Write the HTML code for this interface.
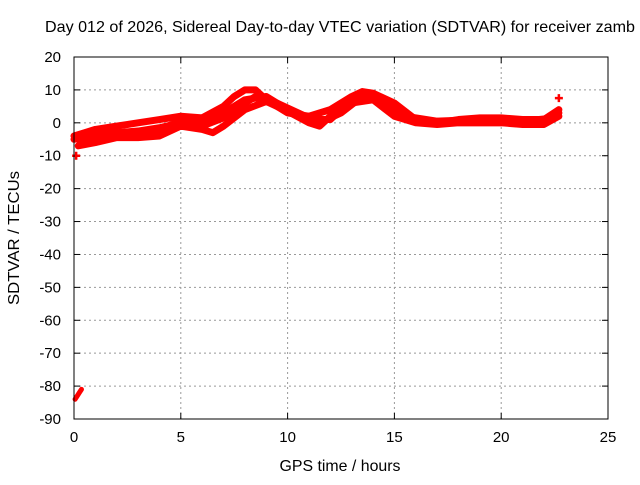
<!DOCTYPE html>
<html><head><meta charset="utf-8"><style>
body{margin:0;background:#fff;font-family:"Liberation Sans",sans-serif}
text{font-family:"Liberation Sans",sans-serif;font-size:15px;fill:#000}
.big{font-size:16px}
</style></head><body>
<svg id="chart" width="640" height="480">
<text class="big" x="340" y="32" text-anchor="middle" textLength="590" lengthAdjust="spacingAndGlyphs">Day 012 of 2026, Sidereal Day-to-day VTEC variation (SDTVAR) for receiver zamb</text>
<g id="grid"></g>
<g id="ticks"></g>
<g id="marks"></g>
<rect x="74" y="57" width="534" height="362" fill="none" stroke="#000" stroke-width="1"/>
<text class="big" x="340" y="471" text-anchor="middle" textLength="121" lengthAdjust="spacingAndGlyphs">GPS time / hours</text>
<text class="big" transform="translate(19,238) rotate(-90)" text-anchor="middle" textLength="134" lengthAdjust="spacingAndGlyphs">SDTVAR / TECUs</text>
</svg>
<script>
const xTicks=[0,5,10,15,20,25];
const yTicks=[20,10,0,-10,-20,-30,-40,-50,-60,-70,-80,-90];
const tA=[0,0.5,1,2,3,4,5,6,7,7.5,8,8.5,9,10,11,12,13,13.5,14,15,16,17,18,19,20,21,22,22.7];
const vA=[-4,-3,-2,-1,0,1,2,1.5,5,8,10,10,7,3,2,4,8,9.5,9,6,1,0,1,1.5,1.5,1,1,4];
const tB=[0.2,1,2,3,4,5,6,6.5,7,8,9,10,11,11.5,12,13,14,15,16,17,18,19,20,21,22,22.7];
const vB=[-7,-6,-4.5,-4.5,-4,-1,-2,-3,-1,4,6.5,3.5,0,-1,2,6,7,2,0,-0.5,0,0,0,-0.5,-0.5,2];
const tC=[0,1,2,3,4,5,6,7,8,9,10,11,12,13,14,15,16,17,18,19,20,21,22,22.7];
const vC=[-5,-4,-3,-2.5,-1.5,0,0,3,7,8,4,1,1,7,8,4,1,0,0.5,0.5,1,0.5,0,3];
const tD=[0.3,1,2,3,4,5,6,7,7.5,8.5,9.5,10.5,11.5,12.5,13.5,14.5,15.5,17,19,21,22.5];
const vD=[-6,-5,-3.5,-3,-2,0.5,-1,1.5,4,8,6,3,0,3,8,7,2,0.5,1,0.5,1.5];
const outT=[0.1,22.7];
const outV=[-10,7.5];
const blobT=[0.05,0.15,0.25,0.35];
const blobV=[-84,-83,-82,-81];
const X=t=>74+t*534/25, Y=v=>57+(20-v)*362/110;
const NS="http://www.w3.org/2000/svg";
const mk=(p,tag,a)=>{const e=document.createElementNS(NS,tag);for(const k in a)e.setAttribute(k,a[k]);p.appendChild(e);return e;};
const grid=document.getElementById('grid'),ticks=document.getElementById('ticks'),marks=document.getElementById('marks');
xTicks.forEach(t=>{const x=X(t);
 if(t>0&&t<25){const l=mk(grid,'line',{x1:x,x2:x,y1:57,y2:419,stroke:'#999','stroke-dasharray':'2,3'});
 
 }
 mk(ticks,'line',{x1:x,x2:x,y1:419,y2:413,stroke:'#000'});mk(ticks,'line',{x1:x,x2:x,y1:57,y2:63,stroke:'#000'});
 const tx=mk(ticks,'text',{x:x,y:442,'text-anchor':'middle'});tx.textContent=t;
 
 });
yTicks.forEach(v=>{const y=Y(v);
 if(v<20&&v>-90){const l=mk(grid,'line',{x1:74,x2:608,y1:y,y2:y,stroke:'#999','stroke-dasharray':'2,3'});
 
 }
 mk(ticks,'line',{x1:74,x2:80,y1:y,y2:y,stroke:'#000'});mk(ticks,'line',{x1:608,x2:602,y1:y,y2:y,stroke:'#000'});
 const tx=mk(ticks,'text',{x:61,y:y+5,'text-anchor':'end'});tx.textContent=v;
 
 });
[[tA,vA],[tB,vB],[tC,vC],[tD,vD]].forEach(([ts,vs],i)=>{
 const p=mk(marks,'polyline',{points:ts.map((t,j)=>X(t)+','+Y(vs[j])).join(' '),fill:'none',stroke:'#f00','stroke-width':7,'stroke-linejoin':'round','stroke-linecap':'round'});
 
 });
const blob=mk(marks,'polyline',{points:blobT.map((t,j)=>X(t)+','+Y(blobV[j])).join(' '),fill:'none',stroke:'#f00','stroke-width':5,'stroke-linecap':'round'});


outT.forEach((t,i)=>{const x=X(t),y=Y(outV[i]);
 const p=mk(marks,'path',{d:`M${x-4},${y}h8M${x},${y-4}v8`,stroke:'#f00','stroke-width':2.5});
 
 });
</script>
</body></html>
